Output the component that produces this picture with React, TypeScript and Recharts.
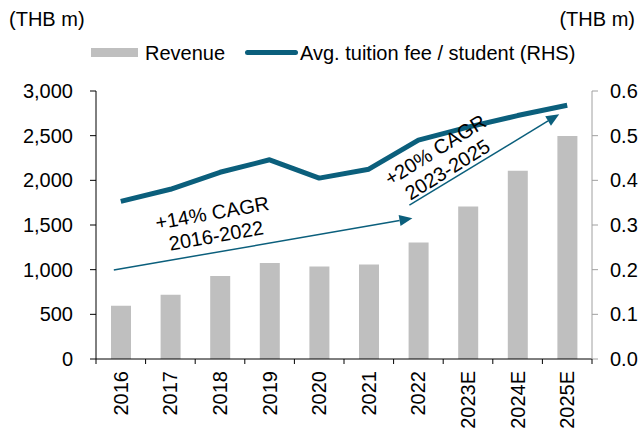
import React from 'react';
import { ComposedChart, Bar, Line, XAxis, YAxis, ReferenceLine } from 'recharts';

const categories = ['2016', '2017', '2018', '2019', '2020', '2021', '2022', '2023E', '2024E', '2025E'];
const revenue = [595, 720, 930, 1075, 1035, 1058, 1305, 1708, 2108, 2495];
const tuitionFee = [0.353, 0.38, 0.418, 0.446, 0.405, 0.425, 0.49, 0.519, 0.545, 0.568];
const leftTicks = [0, 500, 1000, 1500, 2000, 2500, 3000];
const rightTicks = [0, 0.1, 0.2, 0.3, 0.4, 0.5, 0.6];
const legendLabels = ['Revenue', 'Avg. tuition fee / student (RHS)'];
const unitLabel = '(THB m)';
const cagr1Text = ['+14% CAGR', '2016-2022'];
const cagr1Segment = [{ x: '2016', y: 996 }, { x: '2022', y: 1575 }];
const cagr2Text = ['+20% CAGR', '2023-2025'];
const cagr2Segment = [{ x: '2022', y: 1722 }, { x: '2025E', y: 2740 }];

const data = categories.map((c, i) => ({ year: c, revenue: revenue[i], fee: tuitionFee[i] }));

const W = 641;
const H = 432;
const TOP = 91;
const LEFT_W = 96;
const RIGHT_W = 49;
const XAXIS_H = 73;
const PLOT_W = W - LEFT_W - RIGHT_W;
const TEAL = '#0B5F7C';
const GREY = '#BFBFBF';
const FONT = "'Liberation Sans', Arial, sans-serif";

const XTick = (props: any) => {
  const { x, y, payload, index } = props;
  const bw = PLOT_W / categories.length;
  const last = index === categories.length - 1;
  return (
    <g>
      <line x1={x - bw / 2} x2={x - bw / 2} y1={y} y2={y + 5} stroke="#000" />
      {last && <line x1={x + bw / 2} x2={x + bw / 2} y1={y} y2={y + 5} stroke="#000" />}
      <text
        transform={`translate(${x},${y + 12}) rotate(-90)`}
        textAnchor="end"
        dy="0.35em"
        fontSize={20}
        fill="#000"
        fontFamily={FONT}
      >
        {payload.value}
      </text>
    </g>
  );
};

function makeArrow(lines: string[], angle: number, shifts: number[], textOffset: number[]) {
  return (p: any) => {
    const x1 = p.x1 + shifts[0];
    const y1 = p.y1;
    const x2 = p.x2 + shifts[1];
    const y2 = p.y2;
    const a = Math.atan2(y2 - y1, x2 - x1);
    const L = 13;
    const hw = 5.5;
    const bx = x2 - L * Math.cos(a);
    const by = y2 - L * Math.sin(a);
    const px = -Math.sin(a) * hw;
    const py = Math.cos(a) * hw;
    const mx = (x1 + x2) / 2 + textOffset[0];
    const my = (y1 + y2) / 2 + textOffset[1];
    return (
      <g>
        <line x1={x1} y1={y1} x2={bx} y2={by} stroke={TEAL} strokeWidth={1.5} />
        <polygon points={`${x2},${y2} ${bx + px},${by + py} ${bx - px},${by - py}`} fill={TEAL} />
        <text
          transform={`translate(${mx},${my}) rotate(${angle})`}
          textAnchor="middle"
          fontSize={20}
          fill="#000"
          fontFamily={FONT}
        >
          <tspan x={0} y={-11.5} dy="0.35em">{lines[0]}</tspan>
          <tspan x={0} y={11.5} dy="0.35em">{lines[1]}</tspan>
        </text>
      </g>
    );
  };
}

export default function App() {
  return (
    <div style={{ position: 'absolute', left: 0, top: 0, width: W, height: H, fontFamily: FONT }}>
      <ComposedChart
        width={W}
        height={H}
        data={data}
        margin={{ top: TOP, right: 0, bottom: 0, left: 0 }}
        style={{ fontFamily: FONT }}
      >
        <XAxis
          dataKey="year"
          height={XAXIS_H}
          interval={0}
          tickLine={false}
          tickSize={0}
          tickMargin={0}
          axisLine={{ stroke: '#000' }}
          tick={<XTick />}
        />
        <YAxis
          yAxisId="left"
          orientation="left"
          width={LEFT_W}
          domain={[0, 3000]}
          ticks={leftTicks}
          interval={0}
          tickFormatter={(v: number) => v.toLocaleString('en-US')}
          axisLine={{ stroke: '#000' }}
          tickLine={{ stroke: '#000' }}
          tickSize={6}
          tickMargin={17}
          tick={{ fill: '#000', fontSize: 20 }}
        />
        <YAxis
          yAxisId="right"
          orientation="right"
          width={RIGHT_W}
          domain={[0, 0.6]}
          ticks={rightTicks}
          interval={0}
          tickFormatter={(v: number) => v.toFixed(1)}
          axisLine={{ stroke: '#A0A0A0' }}
          tickLine={{ stroke: '#A0A0A0' }}
          tickSize={6}
          tickMargin={12}
          tick={{ fill: '#000', fontSize: 20 }}
        />
        <Bar dataKey="revenue" yAxisId="left" fill={GREY} barSize={20} isAnimationActive={false} />
        <Line
          dataKey="fee"
          yAxisId="right"
          type="linear"
          stroke={TEAL}
          strokeWidth={5}
          dot={false}
          activeDot={false}
          strokeLinejoin="round"
          isAnimationActive={false}
        />
        <ReferenceLine
          yAxisId="left"
          segment={cagr1Segment}
          shape={makeArrow(cagr1Text, -10, [-7, -6], [-49, -20])}
        />
        <ReferenceLine
          yAxisId="left"
          segment={cagr2Segment}
          shape={makeArrow(cagr2Text, -32, [-9, -8], [-43, 0])}
        />
      </ComposedChart>
      <svg
        width={W}
        height={H}
        style={{ position: 'absolute', left: 0, top: 0, pointerEvents: 'none' }}
        fontFamily={FONT}
      >
        <text x={9} y={26} fontSize={20} fill="#000">{unitLabel}</text>
        <text x={635} y={26} fontSize={20} fill="#000" textAnchor="end">{unitLabel}</text>
        <rect x={91} y={48} width={47} height={9} fill={GREY} />
        <text x={145} y={59.5} fontSize={20} fill="#000">{legendLabels[0]}</text>
        <rect x={245} y={50} width={53} height={5} rx={2.5} fill={TEAL} />
        <text x={300} y={59.5} fontSize={20} fill="#000">{legendLabels[1]}</text>
      </svg>
    </div>
  );
}
